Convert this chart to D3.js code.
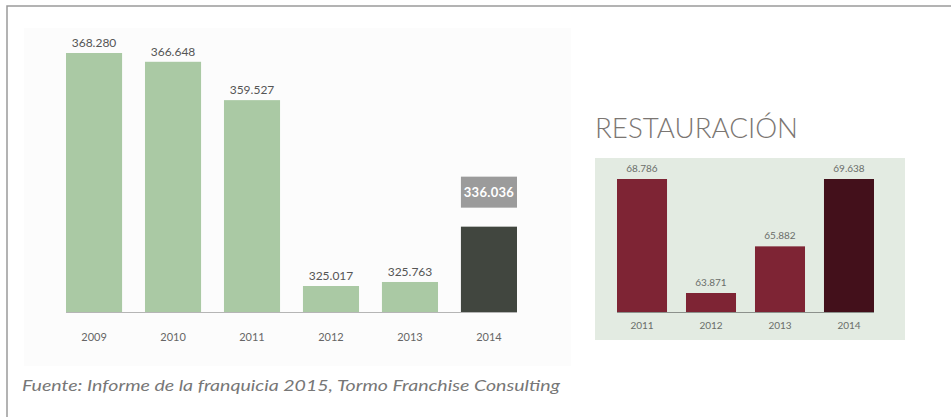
<!DOCTYPE html>
<html>
<head>
<meta charset="utf-8">
<script src="https://cdn.jsdelivr.net/npm/d3@7"></script>
<style>
  body { margin: 0; background: #fff; }
  svg { display: block; font-family: Lato, 'Open Sans', sans-serif; }
</style>
</head>
<body>
<svg id="chart" width="951" height="417"></svg>
<script>
// franquicias totales por año
const years = ['2009', '2010', '2011', '2012', '2013', '2014'];
const totalValues = [368280, 366648, 359527, 325017, 325763, 336036];

// restauración
const restYears = ['2011', '2012', '2013', '2014'];
const restValues = [68786, 63871, 65882, 69638];

const sourceText = 'Fuente: Informe de la franquicia 2015, Tormo Franchise Consulting';

const es = d3.formatLocale({ decimal: ',', thousands: '.', grouping: [3], currency: ['', ' €'] });
const fmt = es.format(',d');

const svg = d3.select('#chart');

// marco
svg.append('path')
    .attr('d', 'M7,417 L7,6 L951,6')
    .attr('fill', 'none')
    .attr('stroke', '#9a9a9a')
    .attr('stroke-width', 1.5);

// ---- gráfico izquierdo ----
svg.append('rect')
    .attr('x', 24).attr('y', 28)
    .attr('width', 547).attr('height', 338)
    .attr('fill', '#fcfcfc');

const x = d3.scaleBand()
    .domain(years)
    .range([66, 517])
    .paddingInner(0.29)
    .paddingOuter(0);

const y = d3.scaleLinear()
    .domain([320190, 368280])
    .range([312, 53]);

const left = svg.append('g');

left.selectAll('rect.bar')
    .data(years)
    .enter()
    .append('rect')
    .attr('class', 'bar')
    .attr('x', d => x(d))
    .attr('y', (d, i) => y(totalValues[i]))
    .attr('width', x.bandwidth())
    .attr('height', (d, i) => y.range()[0] - y(totalValues[i]))
    .attr('fill', (d, i) => i === years.length - 1 ? '#41463f' : '#aac9a4');

left.append('line')
    .attr('x1', x.range()[0]).attr('x2', x.range()[1])
    .attr('y1', 312.5).attr('y2', 312.5)
    .attr('stroke', '#b5b5b5')
    .attr('stroke-width', 1);

// etiquetas de valor
left.selectAll('text.val')
    .data(years.slice(0, -1))
    .enter()
    .append('text')
    .attr('class', 'val')
    .attr('x', d => x(d) + x.bandwidth() / 2)
    .attr('y', (d, i) => y(totalValues[i]) - 6)
    .attr('text-anchor', 'middle')
    .attr('font-size', 12)
    .attr('fill', '#555')
    .text((d, i) => fmt(totalValues[i]));

// último año destacado
const lastYear = years[years.length - 1];
const lastVal = totalValues[totalValues.length - 1];
left.append('rect')
    .attr('x', x(lastYear))
    .attr('y', y(lastVal) - 50)
    .attr('width', x.bandwidth())
    .attr('height', 31)
    .attr('fill', '#9b9b9b');
left.append('text')
    .attr('x', x(lastYear) + x.bandwidth() / 2)
    .attr('y', y(lastVal) - 30)
    .attr('text-anchor', 'middle')
    .attr('font-size', 13)
    .attr('font-weight', 'bold')
    .attr('letter-spacing', 0.3)
    .attr('fill', '#fff')
    .text(fmt(lastVal));

left.selectAll('text.year')
    .data(years)
    .enter()
    .append('text')
    .attr('class', 'year')
    .attr('x', d => x(d) + x.bandwidth() / 2)
    .attr('y', 341)
    .attr('text-anchor', 'middle')
    .attr('font-size', 11)
    .attr('fill', '#666')
    .text(d => d);

// ---- gráfico derecho: restauración ----
svg.append('text')
    .attr('x', 595)
    .attr('y', 138)
    .attr('font-size', 27)
    .attr('font-weight', 300)
    .attr('fill', '#7b7672')
    .attr('textLength', 203)
    .attr('lengthAdjust', 'spacingAndGlyphs')
    .text('RESTAURACIÓN');

svg.append('rect')
    .attr('x', 595).attr('y', 158)
    .attr('width', 310).attr('height', 182)
    .attr('fill', '#e3ebe2');

const rx = d3.scaleBand()
    .domain(restYears)
    .range([617, 874])
    .paddingInner(0.275)
    .paddingOuter(0);

const ry = d3.scaleLinear()
    .domain([63052, 68786])
    .range([312, 179])
    .clamp(true);

const right = svg.append('g');

right.selectAll('rect.bar')
    .data(restYears)
    .enter()
    .append('rect')
    .attr('class', 'bar')
    .attr('x', d => rx(d))
    .attr('y', (d, i) => ry(restValues[i]))
    .attr('width', rx.bandwidth())
    .attr('height', (d, i) => ry.range()[0] - ry(restValues[i]))
    .attr('fill', (d, i) => i === restYears.length - 1 ? '#43101b' : '#7e2434');

right.append('line')
    .attr('x1', rx.range()[0]).attr('x2', rx.range()[1])
    .attr('y1', 312.5).attr('y2', 312.5)
    .attr('stroke', '#8c918c')
    .attr('stroke-width', 1.2);

right.selectAll('text.val')
    .data(restYears)
    .enter()
    .append('text')
    .attr('class', 'val')
    .attr('x', d => rx(d) + rx.bandwidth() / 2)
    .attr('y', (d, i) => ry(restValues[i]) - 7)
    .attr('text-anchor', 'middle')
    .attr('font-size', 10)
    .attr('fill', '#6a6e6a')
    .text((d, i) => fmt(restValues[i]));

right.selectAll('text.year')
    .data(restYears)
    .enter()
    .append('text')
    .attr('class', 'year')
    .attr('x', d => rx(d) + rx.bandwidth() / 2)
    .attr('y', 329)
    .attr('text-anchor', 'middle')
    .attr('font-size', 10)
    .attr('fill', '#6a6e6a')
    .text(d => d);

// fuente
svg.append('text')
    .attr('x', 22)
    .attr('y', 391)
    .attr('font-size', 15)
    .attr('font-style', 'italic')
    .attr('fill', '#777')
    .attr('textLength', 538)
    .attr('lengthAdjust', 'spacingAndGlyphs')
    .text(sourceText);
</script>
</body>
</html>
